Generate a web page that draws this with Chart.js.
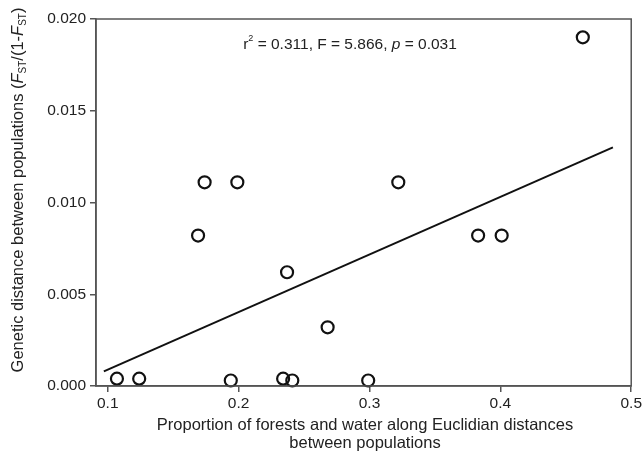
<!DOCTYPE html>
<html>
<head>
<meta charset="utf-8">
<script src="https://cdn.jsdelivr.net/npm/chart.js@4/dist/chart.umd.min.js"></script>
<style>
  html, body { margin: 0; padding: 0; background: #fff; }
  #wrap { width: 644px; height: 453px; }
</style>
</head>
<body>
<div id="wrap"><canvas id="c"></canvas></div>
<script>
// proportion of forests and water (x) vs genetic distance (y)
var propForest = [0.107, 0.124, 0.169, 0.174, 0.199, 0.194, 0.234, 0.241, 0.237, 0.268, 0.299, 0.322, 0.383, 0.401, 0.463];
var genDist    = [0.0004, 0.0004, 0.0082, 0.0111, 0.0111, 0.0003, 0.0004, 0.0003, 0.0062, 0.0032, 0.0003, 0.0111, 0.0082, 0.0082, 0.0190];

// regression line ends
var fitX = [0.097, 0.486];
var fitY = [0.0008, 0.0130];

var xTicks = [0.1, 0.2, 0.3, 0.4, 0.5];
var yTicks = [0.000, 0.005, 0.010, 0.015, 0.020];

var FONT = "'Liberation Sans', Arial, sans-serif";
var AXIS = "#555";

// draws a run of text pieces: [text, style] with style n / i / sub / sup
function richText(ctx, parts, x, y, size, align) {
  function fontFor(st) {
    var s = (st == "sub" || st == "sup") ? Math.round(size * 0.6) : size;
    return (st == "i" ? "italic " : "") + s + "px " + FONT;
  }
  var w = 0;
  parts.forEach(function (p) { ctx.font = fontFor(p[1]); w += ctx.measureText(p[0]).width; });
  var cx = align == "center" ? x - w / 2 : x;
  parts.forEach(function (p) {
    ctx.font = fontFor(p[1]);
    var dy = 0;
    if (p[1] == "sub") dy = size * 0.3;
    if (p[1] == "sup") dy = -size * 0.4;
    ctx.fillText(p[0], cx, y + dy);
    cx += ctx.measureText(p[0]).width;
  });
}

var decor = {
  id: 'decor',
  afterDraw: function (chart) {
    var ctx = chart.ctx, a = chart.chartArea;
    ctx.save();
    // frame
    ctx.strokeStyle = AXIS;
    ctx.lineWidth = 1.5;
    ctx.strokeRect(a.left, a.top, a.right - a.left, a.bottom - a.top);

    ctx.fillStyle = "#222";
    ctx.textBaseline = "middle";
    // stats text
    richText(ctx, [["r", "n"], ["2", "sup"], [" = 0.311, F = 5.866, ", "n"], ["p", "i"], [" = 0.031", "n"]], 350, 45, 15.5, "center");

    // x title
    ctx.font = "16.5px " + FONT;
    ctx.textAlign = "center";
    ctx.fillText("Proportion of forests and water along Euclidian distances", 365, 425);
    ctx.fillText("between populations", 365, 443);

    // y title (rotated)
    ctx.textAlign = "left";
    ctx.translate(18, 190);
    ctx.rotate(-Math.PI / 2);
    richText(ctx, [["Genetic distance between populations (", "n"], ["F", "i"], ["ST", "sub"], ["/(1-", "n"], ["F", "i"], ["ST", "sub"], [")", "n"]], 0, 0, 16.5, "center");
    ctx.restore();
  }
};

var ptData = propForest.map(function (v, i) { return { x: v, y: genDist[i] }; });
var fitData = fitX.map(function (v, i) { return { x: v, y: fitY[i] }; });

new Chart(document.getElementById("c"), {
  type: 'scatter',
  data: {
    datasets: [{
      type: 'line',
      data: fitData,
      borderColor: "#111",
      borderWidth: 2,
      pointRadius: 0,
      fill: false
    }, {
      data: ptData,
      pointRadius: 6,
      pointBorderWidth: 2.2,
      borderColor: "#111",
      backgroundColor: "rgba(255,255,255,0)",
      clip: false
    }]
  },
  options: {
    responsive: true,
    maintainAspectRatio: false,
    animation: false,
    layout: { padding: { top: 19, right: 11, left: 0, bottom: 0 } },
    plugins: { legend: { display: false }, tooltip: { enabled: false } },
    scales: {
      x: {
        type: 'linear',
        min: 0.091,
        max: 0.5,
        afterBuildTicks: function (s) { s.ticks = xTicks.map(function (v) { return { value: v }; }); },
        afterFit: function (s) { s.height = 67; },
        grid: { drawOnChartArea: false, color: AXIS, tickLength: 6, lineWidth: 1.5 },
        border: { color: AXIS, width: 1.5 },
        ticks: {
          color: "#222", font: { family: FONT, size: 15.5 }, padding: 2,
          maxRotation: 0, autoSkip: false,
          callback: function (v) { return v.toFixed(1); }
        }
      },
      y: {
        min: 0,
        max: 0.02,
        afterBuildTicks: function (s) { s.ticks = yTicks.map(function (v) { return { value: v }; }); },
        afterFit: function (s) { s.width = 96; },
        grid: { drawOnChartArea: false, color: AXIS, tickLength: 6, lineWidth: 1.5 },
        border: { color: AXIS, width: 1.5 },
        ticks: {
          color: "#222", font: { family: FONT, size: 15.5 }, padding: 4,
          callback: function (v) { return v.toFixed(3); }
        }
      }
    }
  },
  plugins: [decor]
});
</script>
</body>
</html>
